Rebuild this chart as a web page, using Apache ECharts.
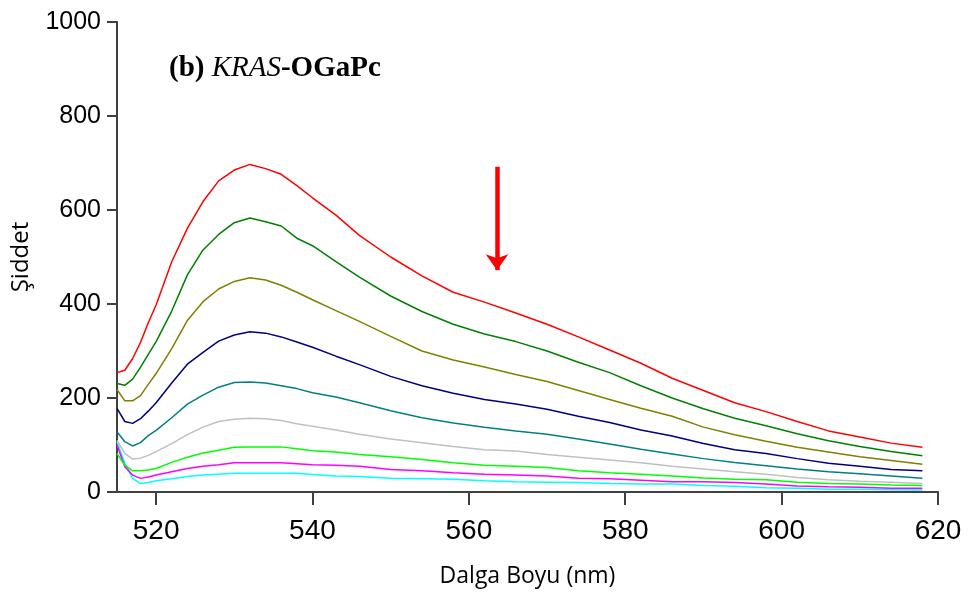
<!DOCTYPE html>
<html>
<head>
<meta charset="utf-8">
<script src="https://cdn.jsdelivr.net/npm/echarts@6/dist/echarts.min.js"></script>
<style>
html,body{margin:0;padding:0;background:#fff;}
#chart{width:971px;height:598px;}
</style>
</head>
<body>
<div id="chart"></div>
<script>
// Wavelengths (nm)
const wavelengths = [515,516,517,518,519,520,522,524,526,528,530,532,534,536,538,540,543,546,550,554,558,562,566,570,574,578,582,586,590,594,598,602,606,610,614,618];

// Intensity curves (top to bottom)
const sRed     = [254,259,284,318,360,398,490,561,618,662,685,697,688,676,652,626,589,546,500,460,425,404,381,357,330,302,274,242,216,190,171,150,130,117,104,95];
const sGreen   = [231,227,240,265,293,320,385,462,515,548,573,583,575,566,540,524,490,457,417,384,357,336,320,300,276,254,226,200,177,157,141,124,109,97,86,77];
const sOlive   = [218,194,194,205,229,252,305,365,405,432,448,456,451,440,425,409,386,363,331,300,281,266,250,235,216,197,178,161,138,122,108,95,85,75,67,59];
const sNavy    = [178,150,146,156,172,190,232,272,297,321,334,341,338,330,319,308,289,271,246,226,210,197,187,176,161,148,132,119,103,90,82,71,61,55,48,45];
const sTeal    = [128,107,98,105,120,131,158,187,206,223,233,234,232,226,220,211,202,190,173,158,147,138,130,123,113,102,91,81,71,63,56,49,43,39,34,29];
const sSilver  = [110,82,70,72,78,86,103,122,138,150,155,157,156,152,145,140,132,123,113,105,97,90,87,80,74,68,62,55,49,43,38,31,26,23,21,18];
const sLime    = [82,57,45,45,47,50,63,74,83,89,95,96,96,96,92,88,85,80,75,69,62,57,55,52,45,41,38,34,30,27,26,21,18,17,15,14];
const sMagenta = [100,54,36,29,32,36,43,50,55,58,62,62,62,62,60,58,57,55,48,45,41,38,36,34,29,28,25,22,22,20,17,13,11,10,8,8];
const sCyan    = [107,61,29,18,20,24,28,33,36,38,40,40,40,40,40,37,34,33,29,28,27,24,22,21,20,18,17,17,14,12,9,8,6,6,5,4];

const seriesColors = ['#ff0000','#008000','#808000','#000080','#008080','#c0c0c0','#00ff00','#ff00ff','#00ffff'];
const seriesList = [sRed,sGreen,sOlive,sNavy,sTeal,sSilver,sLime,sMagenta,sCyan];

const xTicks = [520,540,560,580,600,620];
const yTicks = [0,200,400,600,800,1000];

// Arrow annotation (data coordinates)
const arrowX = 563.6;
const arrowFrom = 692;
const arrowTo = 472;

const chart = echarts.init(document.getElementById('chart'), null, {renderer:'canvas'});

const series = seriesList.map((vals, i) => {
  const s = {
    type: 'line',
    data: wavelengths.map((w, j) => [w, vals[j]]),
    showSymbol: false,
    symbol: 'none',
    smooth: false,
    silent: true,
    animation: false,
    z: 10 - i,
    lineStyle: { color: seriesColors[i], width: 1.5 },
    itemStyle: { color: seriesColors[i] }
  };
  if (i === 0) {
    s.markLine = {
      silent: true,
      animation: false,
      symbol: ['none','arrow'],
      symbolSize: [17, 16],
      label: { show: false },
      lineStyle: { color: '#ff0000', width: 4.5, type: 'solid' },
      emphasis: { disabled: true },
      data: [[ { coord: [arrowX, arrowFrom] }, { coord: [arrowX, arrowTo] } ]]
    };
  }
  return s;
});

const option = {
  backgroundColor: '#ffffff',
  animation: false,
  title: {
    text: '{b|(b) }{i|KRAS}{b|-OGaPc}',
    left: 164,
    top: 49,
    textStyle: {
      rich: {
        b: { fontFamily: 'Liberation Serif', fontWeight: 'bold', fontSize: 29, color: '#000' },
        i: { fontFamily: 'Liberation Serif', fontStyle: 'italic', fontWeight: 'normal', fontSize: 29, color: '#000' }
      }
    }
  },
  grid: { left: 117, right: 33, top: 22, bottom: 106, containLabel: false },
  xAxis: {
    type: 'value',
    min: 515,
    max: 620,
    name: 'Dalga Boyu (nm)',
    nameLocation: 'middle',
    nameGap: 73,
    nameTextStyle: { fontFamily: 'Open Sans', fontSize: 23, color: '#000' },
    axisLine: { show: true, lineStyle: { color: '#404040', width: 2 } },
    axisTick: { show: true, length: 13, lineStyle: { color: '#404040', width: 2 }, customValues: xTicks },
    axisLabel: { fontFamily: 'Liberation Sans', fontSize: 28, color: '#000', margin: 25, customValues: xTicks,
      formatter: v => String(v) },
    splitLine: { show: false }
  },
  yAxis: {
    type: 'value',
    min: 0,
    max: 1000,
    interval: 200,
    name: 'Şiddet',
    nameLocation: 'middle',
    nameGap: 84,
    nameRotate: 90,
    nameTextStyle: { fontFamily: 'Open Sans', fontSize: 24, color: '#000' },
    axisLine: { show: true, lineStyle: { color: '#404040', width: 2 } },
    axisTick: { show: true, length: 10, lineStyle: { color: '#404040', width: 2 } },
    axisLabel: { fontFamily: 'Liberation Sans', fontSize: 25, color: '#000', margin: 16,
      formatter: v => String(v) },
    splitLine: { show: false }
  },
  series: series
};

chart.setOption(option);
</script>
</body>
</html>
